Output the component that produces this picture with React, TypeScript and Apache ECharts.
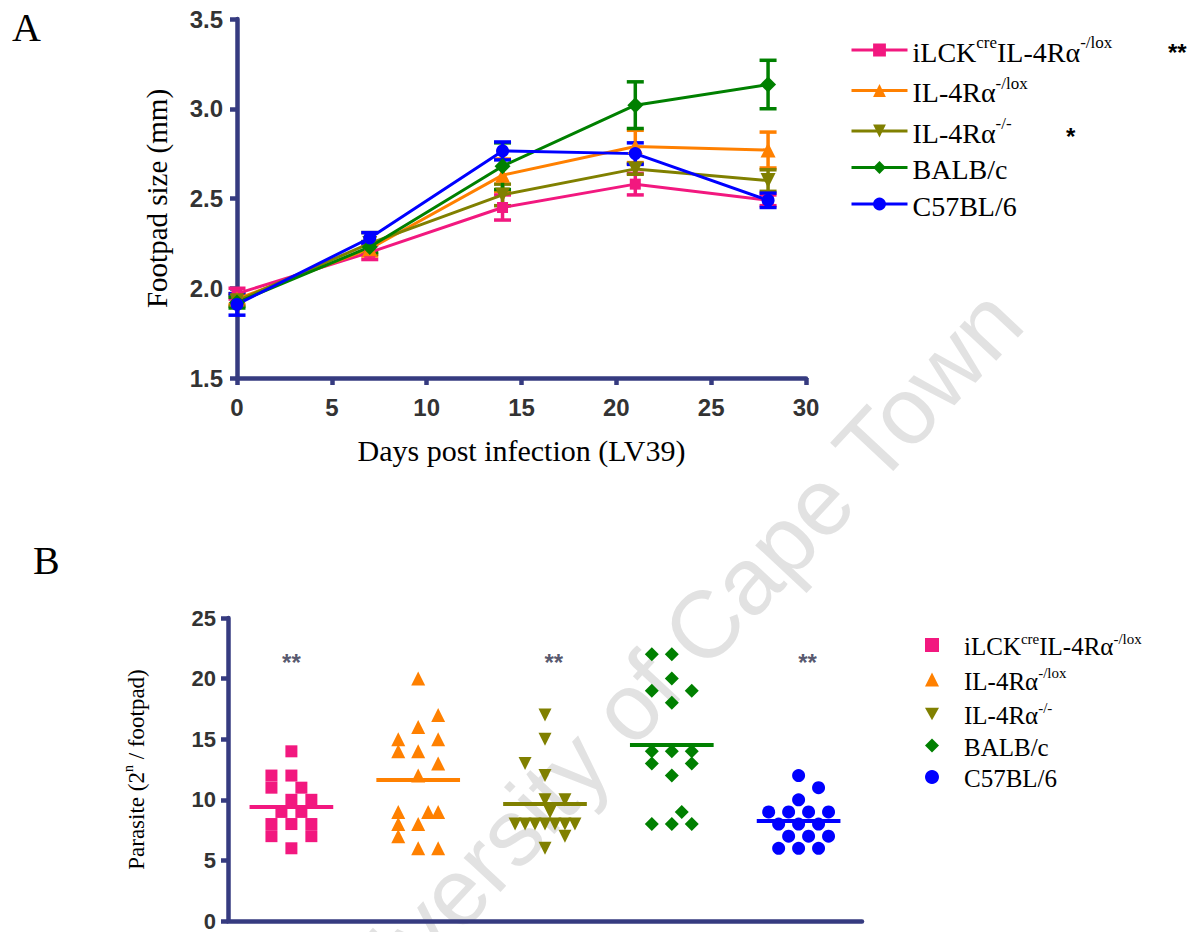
import React, { useEffect, useRef } from 'react';
import * as echarts from 'echarts';

// ---------- data ----------
const days = [0, 7, 14, 21, 28];
const groupKeys = ['iLCKcreIL-4Ra-/lox', 'IL-4Ra-/lox', 'IL-4Ra-/-', 'BALB/c', 'C57BL/6'];
const groupLabels = [
  '{n|iLCK}{s|cre}{n|IL-4Rα}{s|-/lox}',
  '{n|IL-4Rα}{s|-/lox}',
  '{n|IL-4Rα}{s|-/-}',
  '{n|BALB/c}',
  '{n|C57BL/6}',
];

// Panel A: footpad size (mm), mean and SEM per day
const footILck = [1.97, 2.2, 2.45, 2.58, 2.49];
const footILckSem = [0.03, 0.04, 0.07, 0.06, 0.03];
const footLox = [1.94, 2.22, 2.63, 2.79, 2.77];
const footLoxSem = [0.03, 0.04, 0.09, 0.09, 0.1];
const footKo = [1.93, 2.25, 2.52, 2.665, 2.6];
const footKoSem = [0.03, 0.06, 0.06, 0.03, 0.06];
const footBalb = [1.92, 2.23, 2.68, 3.02, 3.135];
const footBalbSem = [0.03, 0.03, 0.13, 0.13, 0.135];
const footC57 = [1.91, 2.28, 2.765, 2.75, 2.49];
const footC57Sem = [0.06, 0.03, 0.05, 0.06, 0.04];

// Panel B: parasite burden (2^n / footpad), with column-scatter jitter (in steps)
const parILck = [14, 12, 12, 11, 11, 10, 10, 9, 9, 8, 8, 8, 7, 7, 6];
const jitILck = [0, -2, 0, -2, 1, 0, 2, -1, 1, -2, 0, 2, -2, 2, 0];
const parLox = [20, 17, 16, 15, 15, 14, 14, 13, 12, 9, 9, 9, 8, 8, 7, 6, 6];
const jitLox = [0, 2, 0, -2, 2, -2, 0, 2, 0, -2, 1, 2, -2, 0, -2, 0, 2];
const parKo = [17, 15, 13, 12, 10, 10, 9, 8, 8, 8, 8, 8, 8, 8, 7, 6];
const jitKo = [0, 0, -2, 0, 0, 2, 0.5, -3, -2, -1, 0, 1, 2, 3, 2, 0];
const parBalb = [22, 22, 20, 19, 19, 18, 14, 14, 14, 13, 13, 12, 9, 8, 8, 8];
const jitBalb = [-2, 0, 0, -2, 2, 0, -2, 0, 2, -2, 2, 0, 1, -2, 0, 2];
const parC57 = [12, 11, 10, 9, 9, 9, 9, 8, 8, 8, 7, 7, 7, 6, 6, 6];
const jitC57 = [0, 2, 0, -3, -1, 1, 3, -2, 0, 2, -1, 1, 3, -2, 0, 2];

const sigLegendA = ['**', '', '*', '', ''];
const sigB = ['**', '', '**', '', '**'];

// ---------- styles ----------
const colors = ['#F2187F', '#FF8000', '#808000', '#008000', '#0000FF'];
const invTri = 'path://M0,0L10,0L5,9Z';
const symbols = ['rect', 'triangle', invTri, 'diamond', 'circle'];
const sizesA = [11, 15, 15, 16, 13];
const sizesB = [12, 14, 13, 14, 13];
const AXIS = '#363B80';
const SERIF = 'Liberation Serif';
const SANS = 'Liberation Sans';
const JIT_STEP = 0.0787;

const footMeans = [footILck, footLox, footKo, footBalb, footC57];
const footSems = [footILckSem, footLoxSem, footKoSem, footBalbSem, footC57Sem];
const parVals = [parILck, parLox, parKo, parBalb, parC57];
const parJit = [jitILck, jitLox, jitKo, jitBalb, jitC57];

const richLegendA = {
  n: { fontFamily: SERIF, fontSize: 28, color: '#000', lineHeight: 32, verticalAlign: 'bottom' },
  s: { fontFamily: SERIF, fontSize: 17, color: '#000', lineHeight: 22, verticalAlign: 'top' },
};
const richLegendB = {
  sp: { width: 20, fontFamily: SERIF, fontSize: 12 },
  n: { fontFamily: SERIF, fontSize: 25, color: '#000', lineHeight: 28, verticalAlign: 'bottom' },
  s: { fontFamily: SERIF, fontSize: 15, color: '#000', lineHeight: 19, verticalAlign: 'top' },
};

function buildOption() {
  const series: any[] = [];
  groupKeys.forEach((key, i) => {
    series.push({
      type: 'custom',
      name: 'err-' + key,
      xAxisIndex: 0,
      yAxisIndex: 0,
      z: 3,
      data: days.map((d, j) => [d, footMeans[i][j] - footSems[i][j], footMeans[i][j] + footSems[i][j]]),
      encode: { x: 0, y: [1, 2] },
      renderItem: (params: any, api: any) => {
        const x = api.value(0);
        const top = api.coord([x, api.value(2)]);
        const bot = api.coord([x, api.value(1)]);
        const hw = 8.5;
        const st = { stroke: colors[i], lineWidth: 3.5 };
        return {
          type: 'group',
          children: [
            { type: 'line', shape: { x1: top[0], y1: top[1], x2: bot[0], y2: bot[1] }, style: st },
            { type: 'line', shape: { x1: top[0] - hw, y1: top[1], x2: top[0] + hw, y2: top[1] }, style: st },
            { type: 'line', shape: { x1: bot[0] - hw, y1: bot[1], x2: bot[0] + hw, y2: bot[1] }, style: st },
          ],
        };
      },
    });
  });
  groupKeys.forEach((key, i) => {
    series.push({
      type: 'line',
      name: key,
      xAxisIndex: 0,
      yAxisIndex: 0,
      z: 4,
      data: days.map((d, j) => [d, footMeans[i][j]]),
      symbol: symbols[i],
      symbolSize: sizesA[i],
      lineStyle: { color: colors[i], width: 3 },
      itemStyle: { color: colors[i] },
    });
  });
  groupKeys.forEach((key, i) => {
    const vals = parVals[i];
    const mean = vals.reduce((a, b) => a + b, 0) / vals.length;
    series.push({
      type: 'scatter',
      name: key + ' ',
      xAxisIndex: 1,
      yAxisIndex: 1,
      data: vals.map((v, j) => [i + 1 + parJit[i][j] * JIT_STEP, v]),
      symbol: symbols[i],
      symbolSize: sizesB[i],
      itemStyle: { color: colors[i], opacity: 1 },
      markLine: {
        silent: true,
        symbol: ['none', 'none'],
        label: { show: false },
        lineStyle: { color: colors[i], width: 4, type: 'solid' },
        data: [[{ coord: [i + 1 - 0.33, mean] }, { coord: [i + 1 + 0.33, mean] }]],
      },
    });
  });
  // significance marks above columns in B
  series.push({
    type: 'scatter',
    name: 'sig',
    xAxisIndex: 1,
    yAxisIndex: 1,
    symbolSize: 0,
    data: sigB.map((s, i) => ({ value: [i + 1 + (i === 0 ? 0 : 0.07), 21.3], label: { show: s !== '', formatter: s } })),
    label: {
      show: true,
      position: 'inside',
      fontFamily: SANS,
      fontWeight: 'bold',
      fontSize: 24,
      color: '#2B2C48',
    },
  });

  const axisCommon = {
    axisLine: { show: true, lineStyle: { color: AXIS, width: 4.5 } },
    axisTick: { show: true, length: 7, lineStyle: { color: AXIS, width: 4.5 } },
    splitLine: { show: false },
  };

  return {
    animation: false,
    backgroundColor: '#ffffff',
    grid: [
      { left: 237, top: 19, width: 569, height: 359 },
      { left: 228, top: 618, width: 634, height: 304 },
    ],
    xAxis: [
      {
        type: 'value',
        gridIndex: 0,
        min: 0,
        max: 30,
        interval: 5,
        ...axisCommon,
        axisLabel: { fontFamily: SANS, fontWeight: 'bold', fontSize: 24, color: '#333', margin: 17 },
        name: 'Days post infection (LV39)',
        nameLocation: 'middle',
        nameGap: 57,
        nameTextStyle: { fontFamily: SERIF, fontSize: 30, color: '#000' },
      },
      {
        type: 'value',
        gridIndex: 1,
        min: 0.5,
        max: 5.5,
        ...axisCommon,
        axisTick: { show: false },
        axisLabel: { show: false },
      },
    ],
    yAxis: [
      {
        type: 'value',
        gridIndex: 0,
        min: 1.5,
        max: 3.5,
        interval: 0.5,
        ...axisCommon,
        axisLabel: {
          fontFamily: SANS,
          fontWeight: 'bold',
          fontSize: 24,
          color: '#333',
          margin: 14,
          formatter: (v: number) => v.toFixed(1),
        },
        name: 'Footpad size (mm)',
        nameLocation: 'middle',
        nameGap: 66,
        nameTextStyle: { fontFamily: SERIF, fontSize: 29, color: '#000' },
      },
      {
        type: 'value',
        gridIndex: 1,
        min: 0,
        max: 25,
        interval: 5,
        ...axisCommon,
        axisLabel: { fontFamily: SANS, fontWeight: 'bold', fontSize: 22, color: '#333', margin: 12 },
        name: '{a|Parasite (2}{s|n}{a| / footpad)}',
        nameLocation: 'middle',
        nameGap: 80,
        nameTextStyle: {
          fontFamily: SERIF,
          fontSize: 23,
          color: '#000',
          rich: {
            a: { fontFamily: SERIF, fontSize: 23, color: '#000', lineHeight: 27, verticalAlign: 'bottom' },
            s: { fontFamily: SERIF, fontSize: 14, color: '#000', lineHeight: 18, verticalAlign: 'top' },
          },
        },
      },
    ],
    legend: [
      {
        orient: 'vertical',
        left: 845,
        top: 29,
        itemWidth: 56,
        itemHeight: 16,
        itemGap: 8.5,
        selectedMode: false,
        data: groupKeys,
        lineStyle: { width: 3 },
        formatter: (name: string) => groupLabels[groupKeys.indexOf(name)],
        textStyle: { fontFamily: SERIF, fontSize: 28, color: '#000', rich: richLegendA },
      },
      {
        orient: 'vertical',
        left: 920,
        top: 626,
        itemWidth: 14,
        itemHeight: 14,
        itemGap: 6.5,
        selectedMode: false,
        data: groupKeys.map((k) => k + ' '),
        formatter: (name: string) => '{sp| }' + groupLabels[groupKeys.indexOf(name.slice(0, -1))],
        textStyle: { fontFamily: SERIF, fontSize: 25, color: '#000', rich: richLegendB },
      },
    ],
    graphic: [
      {
        type: 'text',
        x: 655,
        y: 678,
        rotation: 0.82,
        z: -10,
        silent: true,
        style: {
          text: 'University of Cape Town',
          font: `95px "${SANS}"`,
          fill: '#E2E2E2',
          align: 'center',
          verticalAlign: 'middle',
        },
      },
      { type: 'text', x: 12, y: 7, style: { text: 'A', font: `40px "${SERIF}"`, fill: '#000' } },
      { type: 'text', x: 33, y: 540, style: { text: 'B', font: `40px "${SERIF}"`, fill: '#000' } },
      { type: 'text', x: 1168, y: 40, style: { text: sigLegendA[0], font: `bold 24px "${SANS}"`, fill: '#000' } },
      { type: 'text', x: 1066, y: 124, style: { text: sigLegendA[2], font: `bold 24px "${SANS}"`, fill: '#000' } },
    ],
    series,
  };
}

export default function App() {
  const ref = useRef<HTMLDivElement>(null);
  useEffect(() => {
    const chart = echarts.init(ref.current!, null, { renderer: 'svg' });
    chart.setOption(buildOption() as any);
    return () => chart.dispose();
  }, []);
  return (
    <div
      ref={ref}
      style={{ position: 'fixed', left: 0, top: 0, width: 1199, height: 932, background: '#fff' }}
    />
  );
}
